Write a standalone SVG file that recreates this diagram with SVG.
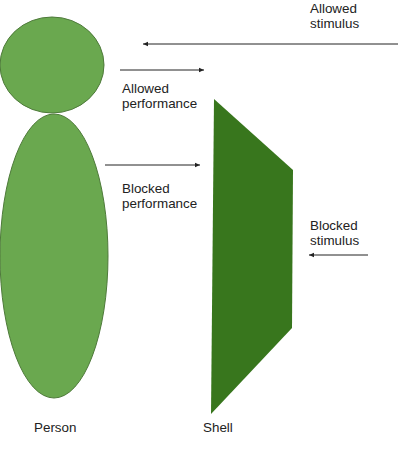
<svg xmlns="http://www.w3.org/2000/svg" width="403" height="452" viewBox="0 0 403 452">
<style>
text{font-family:"Liberation Sans",Arial,sans-serif;font-size:13.4px;fill:#222}
.body{fill:#6aa84f;stroke:#4e7a3a;stroke-width:1}
.arrow{stroke:#222;stroke-width:1;fill:none;marker-end:url(#ah)}
</style>
<defs>
<marker id="ah" markerWidth="6" markerHeight="6" refX="5" refY="3" orient="auto" markerUnits="userSpaceOnUse">
<path d="M0,0.8 L5,3 L0,5.2 Z" fill="#222"/>
</marker>
</defs>
<rect width="403" height="452" fill="#fff"/>
<g id="person">
<ellipse class="body" cx="54" cy="256" rx="54" ry="142"/>
<ellipse class="body" cx="52" cy="65" rx="52" ry="48"/>
<text x="34" y="432">Person</text>
</g>
<g id="shell">
<polygon points="214,99 293,170 292,328 211,414" fill="#38761d"/>
<text x="203" y="432">Shell</text>
</g>
<g id="connectors">
<line class="arrow" x1="398" y1="44" x2="143" y2="44"/>
<line class="arrow" x1="120" y1="70" x2="204" y2="70"/>
<line class="arrow" x1="105" y1="165" x2="200" y2="165"/>
<line class="arrow" x1="368" y1="255" x2="309" y2="255"/>
</g>
<g id="labels">
<text x="310" y="13">Allowed</text>
<text x="310" y="28">stimulus</text>
<text x="122" y="93">Allowed</text>
<text x="122" y="108">performance</text>
<text x="122" y="193">Blocked</text>
<text x="122" y="208">performance</text>
<text x="310" y="230">Blocked</text>
<text x="310" y="245">stimulus</text>
</g>
</svg>
